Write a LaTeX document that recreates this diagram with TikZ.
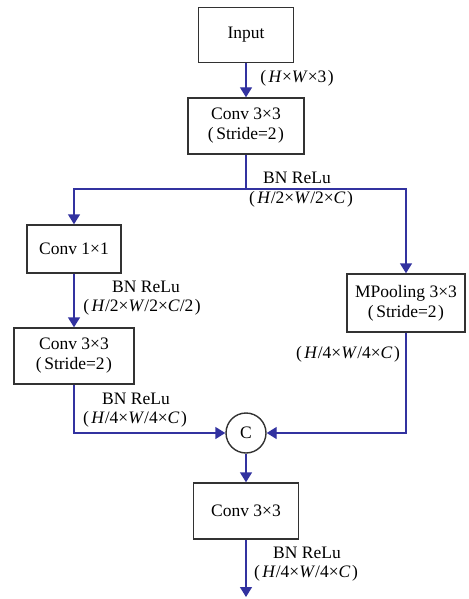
\documentclass[tikz,border=0pt]{standalone}
\usepackage{fontspec}
\setmainfont{Liberation Serif}
\usetikzlibrary{arrows.meta}
\definecolor{lineblue}{RGB}{50,50,160}
\definecolor{boxgray}{RGB}{50,50,50}
\newcommand{\lb}{(\kern2.5pt}
\newcommand{\rb}{\kern1.5pt)}
\newcommand{\iH}{\textit{H}}
\newcommand{\iW}{\textit{W}}
\newcommand{\iC}{\textit{C}}
\begin{document}
\begin{tikzpicture}[x=1pt,y=-1pt,
  font=\fontsize{17.5}{20}\selectfont,
  blk/.style={draw=boxgray,line width=1.4pt,align=center,inner sep=0pt,fill=white},
  conn/.style={draw=lineblue,line width=1.4pt},
  arr/.style={conn,-{Triangle[width=12pt,length=10pt]}},
  lbl/.style={inner sep=0pt,align=center}]
\useasboundingbox (0,0) rectangle (468,599);
\node[blk,minimum width=95pt,minimum height=55pt] (input) at (246,35) {Input};
\node[blk,minimum width=116pt,minimum height=56pt] (conv1) at (246,126) {Conv 3×3\\\lb Stride=2\rb};
\node[blk,minimum width=94pt,minimum height=48pt] (conv11) at (74,249) {Conv 1×1};
\node[blk,minimum width=120pt,minimum height=56pt] (conv2) at (74,356) {Conv 3×3\\\lb Stride=2\rb};
\node[blk,minimum width=118pt,minimum height=58pt] (mpool) at (406,303) {MPooling 3×3\\\lb Stride=2\rb};
\node[blk,circle,minimum size=40pt] (cat) at (246,433) {C};
\node[blk,minimum width=105pt,minimum height=56pt] (conv3) at (246,511) {Conv 3×3};
\coordinate (split) at (246,189);
\coordinate (out) at (246,597);
\draw[arr] (input) -- (conv1);
\draw[conn] (conv1.south) -- (split);
\draw[arr] (split) -| (conv11.north);
\draw[arr] (split) -| (mpool.north);
\draw[arr] (conv11) -- (conv2);
\draw[arr] (conv2.south) |- (cat.west);
\draw[arr] (mpool.south) |- (cat.east);
\draw[arr] (cat) -- (conv3);
\draw[arr] (conv3.south) -- (out);
\node[lbl] (l0) at (297,78) {\lb\iH×\iW×3\rb};
\node[lbl] (l1a) at (297,178) {BN ReLu};
\node[lbl] (l1b) at (301,199) {\lb\iH/2×\iW/2×\iC\rb};
\node[lbl] (l2a) at (146,287) {BN ReLu};
\node[lbl] (l2b) at (142,307) {\lb\iH/2×\iW/2×\iC/2\rb};
\node[lbl] (l3a) at (136,399) {BN ReLu};
\node[lbl] (l3b) at (135,419) {\lb\iH/4×\iW/4×\iC\rb};
\node[lbl] (l4) at (348,354) {\lb\iH/4×\iW/4×\iC\rb};
\node[lbl] (l5a) at (307,553) {BN ReLu};
\node[lbl] (l5b) at (306,573) {\lb\iH/4×\iW/4×\iC\rb};
\end{tikzpicture}
\end{document}
